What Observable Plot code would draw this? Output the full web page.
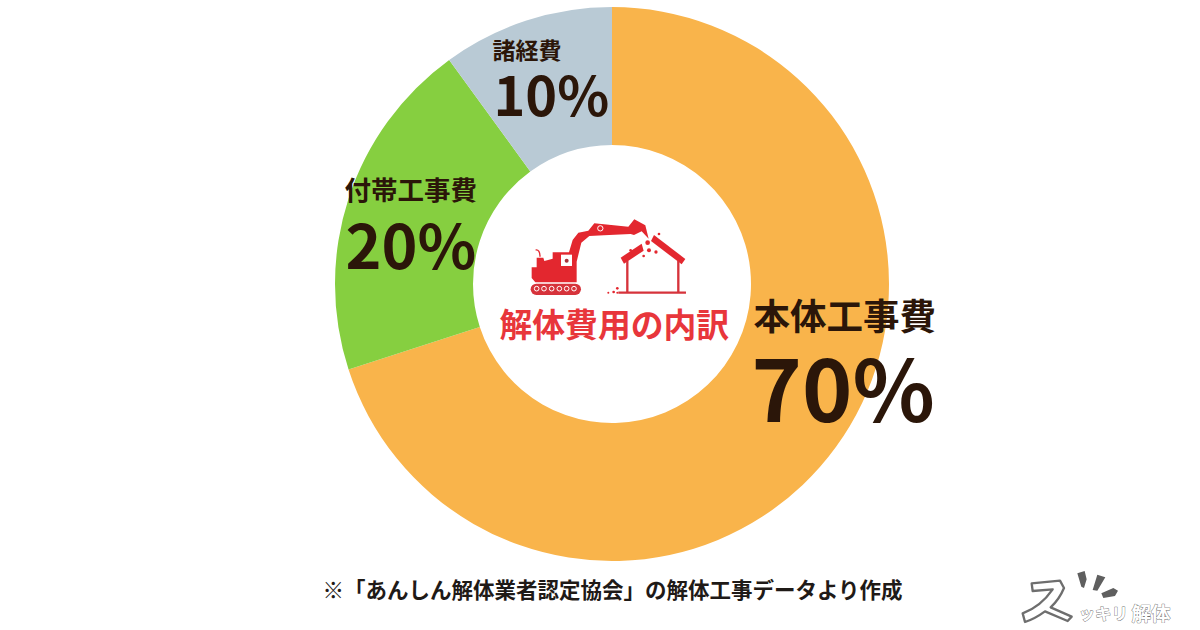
<!doctype html>
<html lang="ja"><head><meta charset="utf-8">
<style>html,body{margin:0;padding:0;background:#fff}svg{display:block}</style>
<script src="https://cdn.jsdelivr.net/npm/d3@7"></script>
<script src="https://cdn.jsdelivr.net/npm/@observablehq/plot@0.6"></script>
</head><body><div id="chart"></div>
<script>
const categories = ["本体工事費", "付帯工事費", "諸経費"];
const shares = [70, 20, 10];
const colors = ["#F9B44B", "#86CF40", "#B9CAD5"];
const centerTitle = "解体費用の内訳";
const footnote = "※「あんしん解体業者認定協会」の解体工事データより作成";
const slices = categories.map((label, i) => ({label, share: shares[i]}));

const INK = "#2B1609", RED = "#E8363B", ICON = "#E3272F", GREY = "#6E6E6E";
const FONT = "'Noto Sans CJK JP', sans-serif";
const CX = 612, CY = 284, R0 = 139, R1 = 277;

function donut(index, scales, values, dims, context) {
  const arc = d3.arc().innerRadius(R0).outerRadius(R1);
  const g = d3.select(context.document.createElementNS("http://www.w3.org/2000/svg", "g"))
    .attr("transform", `translate(${CX},${CY})`);
  for (const i of index) {
    g.append("path")
      .attr("fill", values.fill[i])
      .attr("d", arc({startAngle: values.x1[i], endAngle: values.x2[i]}));
  }
  return g.node();
}

function svgGroup(context, markup) {
  const g = context.document.createElementNS("http://www.w3.org/2000/svg", "g");
  g.innerHTML = markup;
  return g;
}
function excavator(i, s, v, d, context) {
  const wheels = [110,132,155,178,200,222].map(x =>
    `<circle cx="${x}" cy="296" r="7" fill="none" stroke="#fff" stroke-width="3"/>`).join("");
  const bits = [[443,158,7],[447,181,6],[468,186,5],[431,198,4],[392,181,4],[477,132,4],[352,295,4],[341,306,4],[325,308,3],[352,308,3]]
    .map(([x,y,r]) => `<circle cx="${x}" cy="${y}" r="${r}"/>`).join("");
  return svgGroup(context, `<g transform="translate(500,190) scale(0.3333)" fill="${ICON}">
    <rect x="92" y="281" width="151" height="34" rx="17" fill="#D6333B"/>${wheels}
    <path d="M95 232L110 232L110 203L130 203L133 213L158 206L158 187L207 187L218 150L235 128L265 122L283 100L385 110L403 88L436 106L446 146L425 124L402 135L392 132L312 136L268 138L244 158L230 215L230 277L106 277L95 264Z"/>
    <rect x="183" y="194" width="33" height="34" fill="#fff"/><circle cx="200" cy="212" r="6" fill="#A8323A"/>
    <path d="M107 180Q120 178 120 200" fill="none" stroke="${ICON}" stroke-width="4"/>
    <path d="M288 97L385 106" stroke="#fff" stroke-width="3"/>
    <circle cx="301" cy="115" r="8" fill="none" stroke="#fff" stroke-width="3"/>
    <path d="M362 203L425 161L431 182L372 221Z"/><path d="M462 135L556 207L545 223L453 153Z"/>
    <path d="M382 212V305M535 213V305M355 308H558" fill="none" stroke="#D6333B" stroke-width="7"/>
    ${bits}</g>`);
}
function logoMark(i, s, v, d, context) {
  return svgGroup(context, `<g transform="translate(1000,560) scale(0.3333)">
    <path d="M95 70L180 62L192 84Q178 118 152 142L215 170L203 183L135 154Q105 176 75 186L68 160Q122 140 158 88L98 93Z" fill="#fff" stroke="${GREY}" stroke-width="7" stroke-linejoin="round"/>
    <path d="M232 40L254 33L260 58L252 84L244 80Z M292 44L316 52L292 92L278 90Z M304 100L340 84L354 92L345 108L310 114Z" fill="#5F5F5F"/>
  </g>`);
}
const label = (text, dx, dy, fontSize, extra = {}) =>
  Plot.text([text], {frameAnchor: "top-left", dx, dy, text: d => d, fontSize, fontFamily: FONT,
    fontWeight: 700, fill: INK, textAnchor: "start", lineAnchor: "middle", ...extra});

const chart = Plot.plot({
  width: 1200, height: 630, margin: 0,
  x: {domain: [0, 100], range: [0, 2 * Math.PI], axis: null},
  y: {axis: null},
  color: {domain: categories, range: colors},
  style: {background: "#fff"},
  marks: [
    Plot.barX(slices, Plot.stackX({x: "share", fill: "label", render: donut})),
    excavator,
    label(categories[0], 753, 318, 36.5),
    label(shares[0] + "%", 751, 394, 85.5),
    label(categories[1], 344, 191, 26.5),
    label(shares[1] + "%", 345, 249, 61),
    label(categories[2], 492, 51, 23),
    label(shares[2] + "%", 493, 98, 54),
    label(centerTitle, 499, 326, 32.8, {fill: RED}),
    label(footnote, 322, 591, 21.5, {fill: "#1f1a17"}),
    logoMark,
    label("ッキリ", 1078, 614, 16.5, {fill: "#fff", stroke: GREY, strokeWidth: 0.8}),
    label("解体", 1131, 614, 19.5, {fill: "#fff", stroke: GREY, strokeWidth: 0.8})
  ]
});
document.getElementById("chart").append(chart);
</script></body></html>
